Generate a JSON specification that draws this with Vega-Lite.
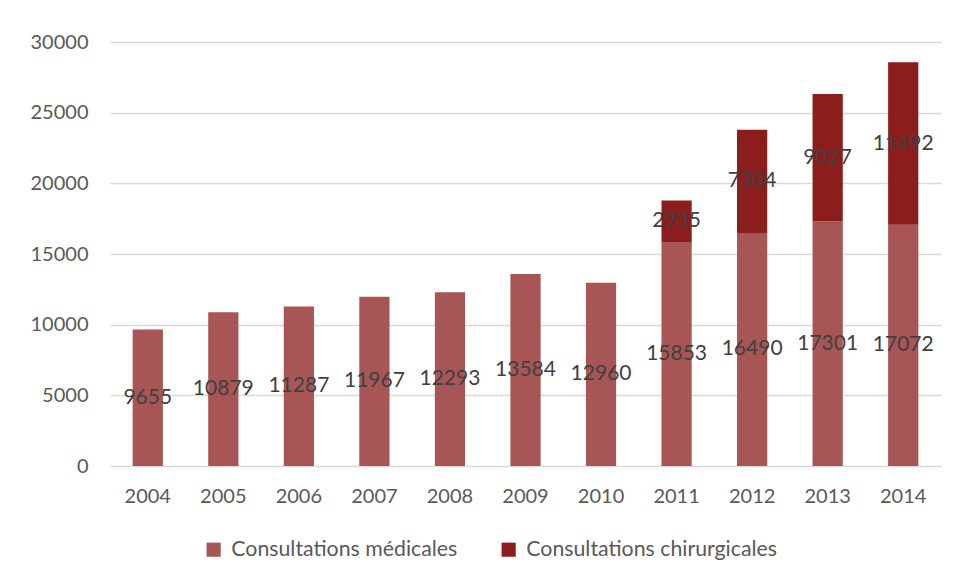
{
  "$schema": "https://vega.github.io/schema/vega-lite/v6.json",
  "autosize": "none",
  "width": 831,
  "height": 424,
  "padding": {"left": 110, "top": 42, "right": 16, "bottom": 114},
  "background": "white",
  "config": {
    "font": "Lato",
    "view": {"stroke": null}
  },
  "data": {
    "values": [
      {"year": "2004", "type": "Consultations médicales", "value": 9655},
      {"year": "2005", "type": "Consultations médicales", "value": 10879},
      {"year": "2006", "type": "Consultations médicales", "value": 11287},
      {"year": "2007", "type": "Consultations médicales", "value": 11967},
      {"year": "2008", "type": "Consultations médicales", "value": 12293},
      {"year": "2009", "type": "Consultations médicales", "value": 13584},
      {"year": "2010", "type": "Consultations médicales", "value": 12960},
      {"year": "2011", "type": "Consultations médicales", "value": 15853},
      {"year": "2012", "type": "Consultations médicales", "value": 16490},
      {"year": "2013", "type": "Consultations médicales", "value": 17301},
      {"year": "2014", "type": "Consultations médicales", "value": 17072},
      {"year": "2011", "type": "Consultations chirurgicales", "value": 2935},
      {"year": "2012", "type": "Consultations chirurgicales", "value": 7304},
      {"year": "2013", "type": "Consultations chirurgicales", "value": 9027},
      {"year": "2014", "type": "Consultations chirurgicales", "value": 11492}
    ]
  },
  "transform": [
    {"stack": "value", "groupby": ["year"], "sort": [{"field": "type", "order": "descending"}], "as": ["v0", "v1"]},
    {"calculate": "(datum.v0 + datum.v1) / 2", "as": "mid"}
  ],
  "encoding": {
    "x": {
      "field": "year", "type": "ordinal", "title": null,
      "scale": {"paddingInner": 0.6, "paddingOuter": 0.3},
      "axis": {"labelAngle": 0, "ticks": false, "domain": false, "labelFontSize": 20, "labelColor": "#595959", "labelPadding": 20}
    }
  },
  "layer": [
    {
      "mark": {"type": "bar"},
      "encoding": {
        "y": {
          "field": "v1", "type": "quantitative", "title": null,
          "scale": {"domain": [0, 30000]},
          "axis": {"values": [0, 5000, 10000, 15000, 20000, 25000, 30000], "format": "d", "domain": false, "ticks": false, "labelFontSize": 20, "labelColor": "#595959", "labelPadding": 22, "gridColor": "#d9d9d9", "gridWidth": 1.3}
        },
        "y2": {"field": "v0"},
        "color": {
          "field": "type", "type": "nominal",
          "scale": {"domain": ["Consultations médicales", "Consultations chirurgicales"], "range": ["#A85555", "#8C1D1D"]},
          "legend": {"title": null, "orient": "none", "direction": "horizontal", "legendX": 93, "legendY": 497, "symbolType": "square", "symbolSize": 200, "symbolStrokeWidth": 0, "labelFontSize": 21.3, "labelColor": "#595959", "labelLimit": 0, "columnPadding": 40, "labelOffset": 7}
        }
      }
    },
    {
      "mark": {"type": "text", "fontSize": 21, "color": "#404040", "baseline": "middle", "align": "center"},
      "encoding": {
        "y": {"field": "mid", "type": "quantitative"},
        "text": {"field": "value", "type": "quantitative", "format": "d"}
      }
    }
  ]
}
